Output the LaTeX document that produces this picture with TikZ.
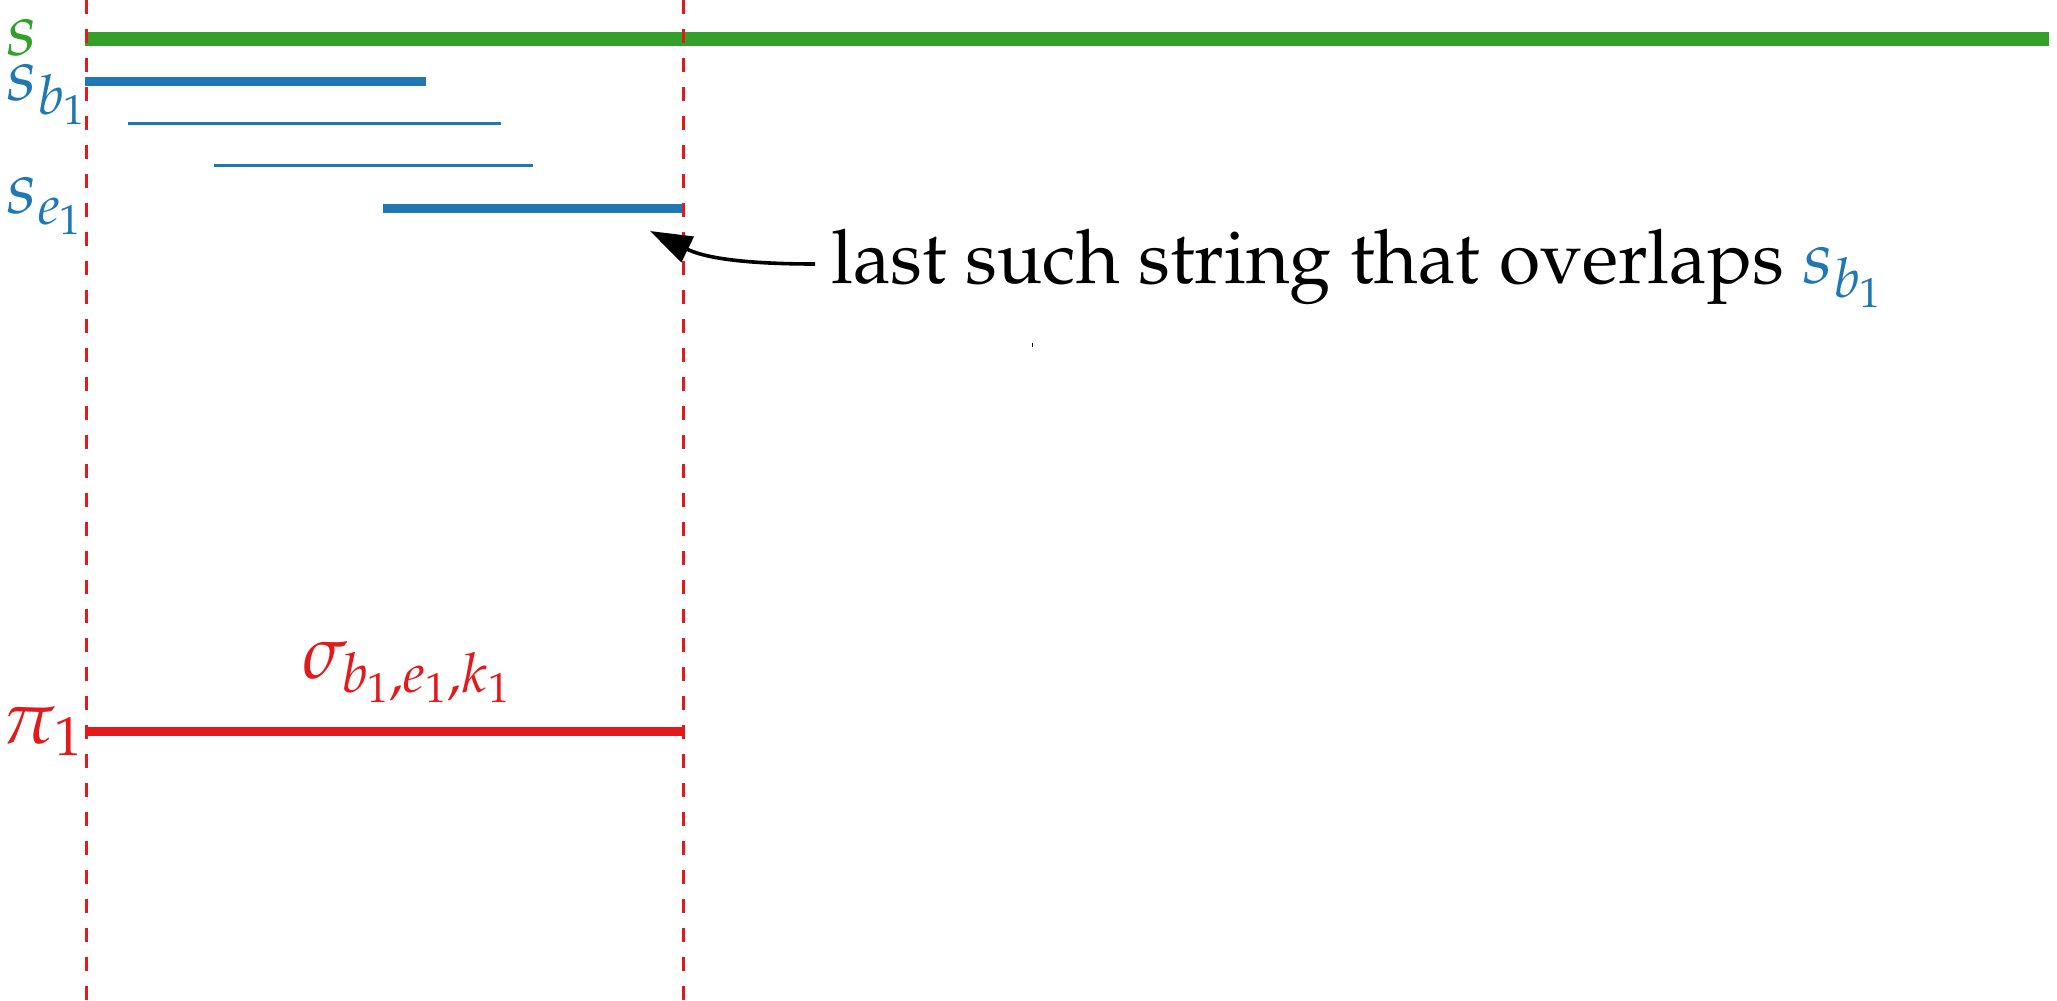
\documentclass[tikz,border=0pt]{standalone}
\usepackage[T1]{fontenc}
\usepackage{mathpazo}
\usetikzlibrary{arrows.meta}
\DeclareMathSizes{37.5}{37.5}{27.5}{21}
\definecolor{cgreen}{RGB}{51,160,44}
\definecolor{cblue}{RGB}{31,120,180}
\definecolor{cred}{RGB}{227,26,28}
\begin{document}
\begin{tikzpicture}[x=0.5pt,y=-0.5pt,
  lbl/.style={font=\fontsize{37.5}{45}\selectfont, inner sep=0pt},
  guide/.style={draw=cred, line width=1.5pt, dash pattern=on 7pt off 7.5pt},
  thickseg/.style={line width=4.5pt},
  thinseg/.style={line width=1.6pt},
  mainseg/.style={line width=7pt}]
\useasboundingbox (0,0) rectangle (2057,1001);
% segments
\coordinate (g1) at (85,38.5);  \coordinate (g2) at (2049,38.5);
\coordinate (b1) at (85,81);    \coordinate (b2) at (426,81);
\coordinate (t1) at (128,123.5);\coordinate (t2) at (501,123.5);
\coordinate (u1) at (214,165.5);\coordinate (u2) at (533,165.5);
\coordinate (e1) at (383,208);  \coordinate (e2) at (683,208);
\coordinate (r1) at (85,731);   \coordinate (r2) at (683,731);
\draw[mainseg, cgreen] (g1) -- (g2);
\draw[thickseg, cblue] (b1) -- (b2);
\draw[thinseg, cblue] (t1) -- (t2);
\draw[thinseg, cblue] (u1) -- (u2);
\draw[thickseg, cblue] (e1) -- (e2);
\draw[thickseg, cred] (r1) -- (r2);
% guides
\coordinate (gl1) at (86,0);  \coordinate (gl2) at (86,1001);
\coordinate (gr1) at (683,0); \coordinate (gr2) at (683,1001);
\draw[guide] (gl1) -- (gl2);
\draw[guide] (gr1) -- (gr2);
% labels
\node[lbl, text=cgreen, anchor=base west] (ls) at (6,55) {$s$};
\node[lbl, text=cblue, anchor=base west] (lsb) at (6,100) {$s_{b_1}$};
\node[lbl, text=cblue, anchor=base west] (lse) at (6,213) {$s_{e_1}$};
\node[lbl, text=cred, anchor=base east] (lpi) at (83,743) {$\pi_1$};
\node[lbl, text=cred, anchor=base] (lsig) at (407,678) {$\sigma_{b_1,e_1,k_1}$};
\node[lbl, anchor=base west] (txt) at (831,283) {last such string that overlaps \textcolor{cblue}{$s_{b_1}$}};
% arrow
\coordinate (tail) at (815,264);
\coordinate (tip) at (650,231);
\draw[line width=1.8pt, -{Triangle[length=21pt,width=14pt]}] (tail) .. controls (745,264) and (705,258) .. (tip);
% tiny mark
\coordinate (m1) at (1032,343); \coordinate (m2) at (1032,347);
\draw[line width=0.5pt] (m1) -- (m2);
\end{tikzpicture}
\end{document}
